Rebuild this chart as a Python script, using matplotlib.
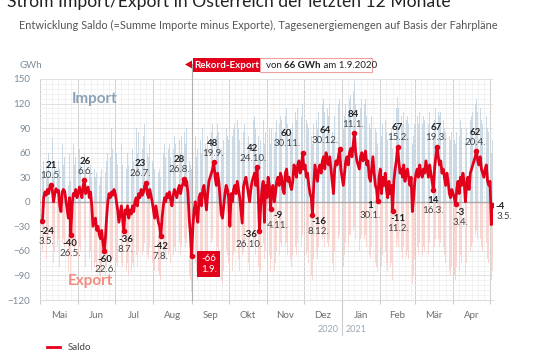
import matplotlib
matplotlib.use("Agg")
import matplotlib.pyplot as plt
import matplotlib.dates as mdates
from matplotlib.patches import Rectangle, Polygon
from matplotlib.lines import Line2D
from matplotlib.ticker import MultipleLocator
from datetime import date, timedelta

plt.rcParams["font.family"] = ["Lato", "DejaVu Sans"]

# ---------------- data ----------------
start_date = date(2020, 5, 3)

# daily saldo (GWh), 3.5.2020 - 3.5.2021
saldo = [
    # May 2020 (3-31)
    -24, 5, 12, 8, 15, 10, 18, 21, 14, 0, 10, 16, 12, 14, -5, -12, 12, 15, 13, 2, -8, -20, 5, -40, -5, 10, 8, 15, 5,
    # Jun
    10, 18, 12, 5, 20, 26, 10, 15, 18, 5, 12, -5, -30, -25, -20, -35, -30, -40, -45, -35, -50, -60, -45, -20, 0, 10, 5, 12, 8, 15,
    # Jul
    10, 0, -10, -25, -15, -5, -20, -36, -10, -15, -5, -20, -10, -15, -5, -12, 0, 5, -5, 10, 5, 15, 8, 12, 20, 23, 10, 5, 15, 8, 0,
    # Aug
    -10, -20, -5, -15, -25, -30, -42, -20, -5, 5, 0, 10, 5, 12, 2, -5, 8, 15, 10, 5, 15, 20, 10, 18, 22, 28, 20, 25, 10, -20, -40,
    # Sep
    -66, -30, -10, 0, -15, -25, 5, 10, -5, 15, 20, 5, -10, 10, 25, 30, 35, 40, 48, 30, 20, 35, 25, 5, -15, -20, -5, 10, 20, 15,
    # Oct
    5, -30, 10, 0, 15, 20, 10, 25, 15, 5, -10, -26, 18, 25, 30, 20, 10, 0, 15, 25, 30, 35, 20, 42, 10, -36, -5, 15, 25, -25, 20,
    # Nov
    5, 30, 20, -9, 15, 20, 0, 10, 25, 30, 20, 35, 30, 15, 10, 35, 40, 25, 30, 20, 15, 25, 45, 40, 30, 45, 50, 35, 40, 60,
    # Dec
    40, 45, 30, 35, 20, 10, 5, -16, 20, 45, 35, 25, 40, 45, 35, 50, 55, 40, 60, 50, 45, 55, 40, 25, 10, 40, 50, 45, 55, 64, 40,
    # Jan 2021
    30, 20, 35, 50, 55, 45, 60, 65, 55, 70, 84, 60, 50, 45, 40, 55, 60, 50, 55, 62, 45, 50, 30, 25, 40, 55, 35, 20, 15, 1, 30,
    # Feb
    40, 10, 30, 20, 35, 15, 5, 25, 10, 20, -11, 25, 40, 50, 67, 50, 35, 40, 30, 45, 25, 35, 40, 30, 20, 30, -12, 5,
    # Mar
    25, 35, 40, 30, 45, 35, 30, 40, 35, 50, 40, 30, 45, 35, 25, 14, 40, 55, 67, 55, 45, 50, 35, 40, 30, 20, 35, 25, 10, 5, 15,
    # Apr
    10, 5, -3, 15, 25, 10, 30, 20, 35, 25, 0, 20, 30, 15, 35, 40, 45, 50, 55, 62, 50, 45, 55, 40, 35, 30, 40, 45, 25, 20,
    # May 2021 (1-3)
    25, -28, -4,
]

# daily imports (GWh, light blue bars above zero)
imports = [
    35, 50, 75, 45, 30, 60, 40, 55, 78, 35, 45, 65, 30, 50, 40, 25, 70, 45, 55, 35, 30, 20, 60, 25, 40, 70, 45, 55, 35,
    50, 65, 45, 35, 95, 60, 40, 55, 70, 35, 45, 30, 25, 40, 30, 35, 45, 20, 30, 40, 25, 20, 35, 50, 60, 75, 55, 90, 65, 70,
    80, 60, 45, 35, 55, 70, 45, 30, 50, 40, 60, 45, 55, 40, 65, 50, 75, 90, 60, 85, 105, 70, 65, 80, 95, 75, 60, 55, 70, 65, 50,
    45, 40, 55, 45, 35, 40, 30, 45, 60, 70, 55, 75, 65, 70, 55, 50, 65, 80, 70, 60, 95, 75, 60, 80, 100, 85, 70, 90, 65, 50, 45,
    40, 60, 70, 80, 55, 65, 85, 75, 60, 90, 85, 70, 65, 80, 95, 90, 85, 95, 100, 90, 80, 95, 85, 70, 65, 60, 75, 85, 90, 80,
    75, 65, 85, 80, 90, 95, 85, 100, 90, 75, 70, 60, 85, 95, 100, 90, 80, 70, 85, 95, 100, 105, 90, 110, 80, 60, 75, 90, 100, 70, 85,
    80, 95, 90, 70, 90, 95, 75, 85, 100, 110, 95, 105, 100, 85, 80, 105, 115, 95, 100, 90, 85, 95, 120, 110, 100, 115, 125, 100, 105, 120,
    105, 110, 100, 95, 90, 85, 80, 70, 95, 110, 100, 90, 110, 115, 105, 120, 125, 110, 132, 115, 105, 120, 100, 85, 75, 105, 115, 110, 120, 125, 105,
    100, 90, 105, 120, 115, 110, 125, 130, 120, 135, 148, 120, 110, 105, 100, 115, 125, 110, 120, 125, 105, 115, 95, 90, 105, 120, 100, 90, 85, 70, 95,
    100, 80, 95, 90, 100, 85, 75, 95, 80, 90, 65, 95, 105, 115, 128, 115, 100, 105, 95, 110, 90, 100, 105, 95, 90, 95, 70, 80,
    95, 100, 105, 95, 110, 100, 95, 105, 100, 115, 105, 95, 110, 100, 90, 80, 100, 115, 120, 110, 105, 110, 95, 100, 90, 85, 95, 90, 80, 75, 85,
    80, 75, 70, 85, 95, 80, 100, 90, 105, 95, 75, 90, 100, 85, 100, 105, 110, 115, 120, 125, 110, 105, 115, 100, 95, 90, 100, 105, 90, 85,
    90, 60, 75,
]

# daily exports (GWh, light red bars below zero)
exports = [
    60, 45, 55, 70, 50, 40, 65, 55, 45, 75, 60, 50, 55, 45, 80, 70, 50, 45, 55, 65, 75, 85, 60, 90, 70, 55, 60, 45, 65,
    70, 55, 60, 75, 50, 45, 80, 65, 55, 70, 60, 85, 90, 80, 75, 85, 80, 90, 95, 85, 100, 95, 90, 80, 70, 60, 75, 65, 70, 60,
    65, 75, 80, 95, 85, 75, 80, 90, 80, 85, 75, 90, 80, 85, 75, 80, 70, 65, 80, 60, 70, 55, 65, 60, 50, 45, 65, 70, 55, 60, 75,
    80, 85, 70, 80, 85, 90, 95, 80, 70, 60, 70, 55, 65, 60, 75, 80, 65, 55, 60, 70, 55, 50, 65, 55, 50, 45, 55, 50, 70, 90, 95,
    110, 90, 80, 75, 85, 95, 70, 65, 80, 70, 60, 75, 90, 70, 60, 55, 50, 45, 40, 60, 70, 55, 65, 80, 95, 100, 85, 70, 60, 65,
    75, 100, 70, 85, 65, 60, 75, 55, 70, 85, 95, 65, 60, 50, 45, 60, 75, 85, 65, 55, 50, 45, 65, 40, 80, 100, 85, 60, 50, 70, 60,
    80, 55, 65, 85, 70, 65, 85, 75, 60, 55, 65, 50, 55, 70, 80, 55, 50, 65, 60, 70, 80, 65, 50, 55, 65, 50, 45, 60, 55, 40,
    55, 50, 65, 60, 75, 85, 90, 95, 70, 50, 60, 70, 55, 50, 60, 45, 40, 55, 40, 50, 55, 45, 60, 75, 85, 60, 50, 55, 45, 40, 60,
    70, 80, 65, 50, 45, 55, 40, 40, 50, 35, 30, 45, 50, 55, 60, 45, 40, 50, 45, 40, 55, 50, 65, 70, 55, 45, 60, 75, 80, 85, 60,
    55, 80, 65, 70, 60, 75, 85, 70, 80, 75, 95, 70, 60, 55, 45, 55, 65, 60, 70, 55, 75, 65, 60, 70, 80, 70, 100, 90,
    70, 60, 55, 65, 50, 60, 65, 55, 60, 45, 55, 65, 50, 60, 70, 80, 55, 45, 40, 45, 55, 50, 60, 55, 65, 75, 60, 70, 85, 90, 80,
    85, 90, 95, 80, 70, 85, 65, 75, 60, 70, 90, 75, 65, 80, 60, 55, 50, 45, 40, 35, 45, 50, 45, 55, 60, 65, 55, 50, 70, 75,
    70, 95, 85,
]
assert len(saldo) == len(exports) == len(imports) == 366

# annotated extremes
hi_dates = [date(2020, 5, 10), date(2020, 6, 6), date(2020, 7, 26), date(2020, 8, 26), date(2020, 9, 19),
            date(2020, 10, 24), date(2020, 11, 30), date(2020, 12, 30), date(2021, 1, 11), date(2021, 2, 15),
            date(2021, 3, 19), date(2021, 4, 20)]
hi_values = [21, 26, 23, 28, 48, 42, 60, 64, 84, 67, 67, 62]
hi_labels = ["10.5.", "6.6.", "26.7.", "26.8.", "19.9.", "24.10.", "30.11.", "30.12.", "11.1.", "15.2.", "19.3.", "20.4."]
hi_dx = [0, 1, -6, -5, -1, -4, -16, -14, -1, 0, -1, -1]

lo_dates = [date(2020, 5, 3), date(2020, 5, 26), date(2020, 6, 22), date(2020, 7, 8), date(2020, 8, 7),
            date(2020, 10, 26), date(2020, 11, 4), date(2020, 12, 8), date(2021, 1, 30), date(2021, 2, 11),
            date(2021, 3, 16), date(2021, 4, 3)]
lo_values = [-24, -40, -60, -36, -42, -36, -9, -16, 1, -11, 14, -3]
lo_labels = ["3.5.", "26.5.", "22.6.", "8.7.", "7.8.", "26.10.", "4.11.", "8.12.", "30.1.", "11.2.", "16.3.", "3.4."]
lo_dx = [4, -1, 1, 2, 0, -10, 7, 6, -8, 5, 0, 5]
lo_dy = [10, 9, 9, 8, 10, 3, 6, 7, 5, 8, 10, 8]

rec_date = date(2020, 9, 1)
rec_value = -66
last_date = date(2021, 5, 3)
last_value = -4

month_names = ["Mai", "Jun", "Jul", "Aug", "Sep", "Okt", "Nov", "Dez", "Jän", "Feb", "Mär", "Apr"]
month_starts = [date(2020, 5, 1), date(2020, 6, 1), date(2020, 7, 1), date(2020, 8, 1), date(2020, 9, 1),
                date(2020, 10, 1), date(2020, 11, 1), date(2020, 12, 1), date(2021, 1, 1), date(2021, 2, 1),
                date(2021, 3, 1), date(2021, 4, 1), date(2021, 5, 1)]

# ---------------- figure ----------------
W, H = 540, 360
fig = plt.figure(figsize=(W / 100, H / 100), dpi=100)
fig.patch.set_facecolor("white")


def fx(px):
    return px / W


def fy(py):
    return 1 - py / H


ax = fig.add_axes([fx(40), fy(300), fx(493) - fx(40), fy(79) - fy(300)])
ax.set_facecolor("white")

RED = "#e3001b"
x = [mdates.date2num(start_date + timedelta(days=i)) for i in range(len(saldo))]
d0 = mdates.date2num(date(2020, 5, 1))
ax.set_xlim(d0, d0 + 367.4)
ax.set_ylim(-120, 150)

# grid
ax.yaxis.set_major_locator(MultipleLocator(30))
ax.yaxis.set_minor_locator(MultipleLocator(6))
ax.set_xticks([mdates.date2num(m) for m in month_starts])
ax.xaxis.set_minor_locator(mdates.DayLocator(bymonthday=[6, 11, 16, 21, 26]))
ax.grid(which="minor", color="#ededed", lw=0.5)
ax.grid(which="major", axis="y", color="#dddddd", lw=0.6)
ax.grid(which="major", axis="x", color="#cfcfcf", lw=0.7)
ax.set_axisbelow(True)

# bars
ax.bar(x, imports, width=0.55, color="#c4d4e2", alpha=0.85, lw=0, zorder=1.5)
ax.bar(x, [-e for e in exports], width=0.55, color="#f7cfcb", alpha=0.85, lw=0, zorder=1.5)

ax.axhline(0, color="#a8a8a8", lw=1.0, zorder=2)

# saldo line
ax.plot(x, saldo, color=RED, lw=2.0, zorder=5, solid_joinstyle="round")

# ticks
ax.set_xticklabels([])
ax.tick_params(axis="x", which="major", length=3, color="#cccccc", pad=2)
ax.tick_params(axis="x", which="minor", length=0)
ax.tick_params(axis="y", which="both", length=0, labelsize=7, labelcolor="#7d8c99", pad=7)
for s in ["top", "right", "left"]:
    ax.spines[s].set_visible(False)
ax.spines["bottom"].set_color("#dddddd")

xtr = ax.get_xaxis_transform()
for i, name in enumerate(month_names):
    mid = (mdates.date2num(month_starts[i]) + mdates.date2num(month_starts[i + 1])) / 2
    ax.text(mid, -11 / 221, name, transform=xtr, ha="center", va="top", fontsize=7, color="#6f6f6f")

# year labels
jan1 = mdates.date2num(date(2021, 1, 1))
ax.add_line(Line2D([jan1, jan1], [0, -35 / 221], transform=xtr, color="#cccccc", lw=0.8, clip_on=False))
ax.text(jan1 - 3, -29 / 221, "2020", transform=xtr, ha="right", va="center", fontsize=6.5, color="#9aa8b4")
ax.text(jan1 + 3, -29 / 221, "2021", transform=xtr, ha="left", va="center", fontsize=6.5, color="#9aa8b4")

# Import / Export labels
ax.text(mdates.date2num(date(2020, 6, 14)), 125, "Import", fontsize=11, fontweight="bold",
        color="#8aa2b7", ha="center", va="center", zorder=6)
ax.text(mdates.date2num(date(2020, 6, 11)), -97, "Export", fontsize=11, fontweight="bold",
        color="#f28b80", ha="center", va="center", zorder=6)

PT = 0.72  # points per pixel at 100 dpi

for d, v, lab, dx in zip(hi_dates, hi_values, hi_labels, hi_dx):
    xd = mdates.date2num(d)
    ax.plot([xd], [v], "o", ms=3, color=RED, zorder=6)
    ax.annotate(str(v), (xd, v), xytext=(dx * PT, 19 * PT), textcoords="offset points",
                ha="center", va="center", fontsize=7, fontweight="bold", color="#222222", zorder=7)
    ax.annotate(lab, (xd, v), xytext=(dx * PT, 9 * PT), textcoords="offset points",
                ha="center", va="center", fontsize=7, color="#444444", zorder=7)

for d, v, lab, dx, dy in zip(lo_dates, lo_values, lo_labels, lo_dx, lo_dy):
    xd = mdates.date2num(d)
    ax.plot([xd], [v], "o", ms=3, color=RED, zorder=6)
    ax.annotate(str(v), (xd, v), xytext=(dx * PT, -dy * PT), textcoords="offset points",
                ha="center", va="center", fontsize=7, fontweight="bold", color="#222222", zorder=7)
    ax.annotate(lab, (xd, v), xytext=(dx * PT, -(dy + 10) * PT), textcoords="offset points",
                ha="center", va="center", fontsize=7, color="#444444", zorder=7)

xl = mdates.date2num(last_date)
ax.plot([xl], [last_value], "o", ms=3, color=RED, zorder=6)
ax.annotate(str(last_value), (xl, last_value), xytext=(3 * PT, -1 * PT), textcoords="offset points",
            ha="left", va="center", fontsize=7, fontweight="bold", color="#222222", annotation_clip=False)
ax.annotate("3.5.", (xl, last_value), xytext=(4 * PT, -11 * PT), textcoords="offset points",
            ha="left", va="center", fontsize=7, color="#444444", annotation_clip=False)

xr = mdates.date2num(rec_date)
ax.plot([xr], [rec_value], "o", ms=3, color=RED, zorder=6)
ax.annotate(f"{rec_value}\n1.9.", (xr, rec_value), xytext=(17 * PT, -8 * PT), textcoords="offset points",
            ha="center", va="center", fontsize=7, color="white", linespacing=1.25, zorder=8,
            bbox=dict(boxstyle="square,pad=0.35", fc=RED, ec="none"))

# vertical record line and header callout
ax.add_line(Line2D([xr, xr], [0, (300 - 64) / 221], transform=xtr, color="#b0b0b0",
                   lw=0.8, clip_on=False, zorder=3))
fig.patches.append(Polygon([[fx(185), fy(64.5)], [fx(192), fy(60.5)], [fx(192), fy(68.5)]],
                           closed=True, transform=fig.transFigure, fc=RED, ec="none"))
fig.patches.append(Rectangle((fx(193), fy(72)), fx(260) - fx(193), fy(58) - fy(72), transform=fig.transFigure,
                             fc=RED, ec="none"))
fig.patches.append(Rectangle((fx(260), fy(72)), fx(372) - fx(260), fy(58) - fy(72), transform=fig.transFigure,
                             fc="white", ec="#f2a0a0", lw=0.8))
fig.text(fx(226.5), fy(65), "Rekord-Export", ha="center", va="center", fontsize=7, fontweight="bold",
         color="white")

fig.canvas.draw()
r = fig.canvas.get_renderer()
xpos = 266
for txt, fw in [("von ", "normal"), ("66 GWh", "bold"), (" am 1.9.2020", "normal")]:
    t = fig.text(fx(xpos), fy(65), txt, ha="left", va="center", fontsize=7, fontweight=fw, color="#222222")
    xpos += t.get_window_extent(r).width

# titles
title = fig.text(fx(7), fy(7), "Strom Import/Export in Österreich der letzten 12 Monate", ha="left",
                 va="baseline", fontsize=12, color="#222222")
sub = fig.text(fx(19), fy(25), "Entwicklung Saldo (=Summe Importe minus Exporte), Tagesenergiemengen auf Basis der Fahrpläne",
               ha="left", va="center", fontsize=7.5, color="#555555")
fig.text(fx(20), fy(65), "GWh", ha="left", va="center", fontsize=7, color="#7d8c99")

fig.canvas.draw()
for t, target in [(title, 440), (sub, 474)]:
    w = t.get_window_extent(r).width
    t.set_fontsize(t.get_fontsize() * target / w)

# legend
fig.add_artist(Line2D([fx(47), fx(60)], [fy(347), fy(347)], color=RED, lw=2, transform=fig.transFigure))
fig.text(fx(68), fy(347), "Saldo", ha="left", va="center", fontsize=7, color="#444444")

fig.savefig("out.png", dpi=100, facecolor="white")
